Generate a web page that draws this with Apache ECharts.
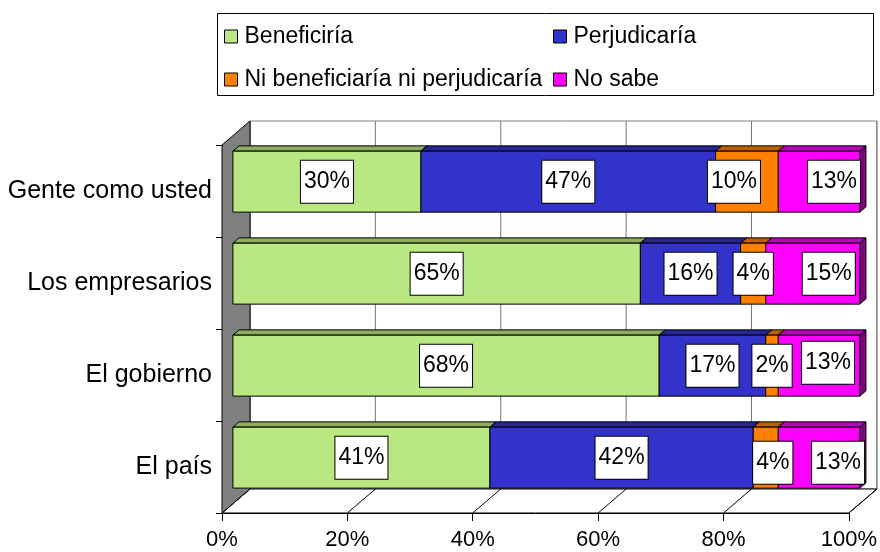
<!DOCTYPE html>
<html>
<head>
<meta charset="utf-8">
<script src="https://cdn.jsdelivr.net/npm/echarts@6/dist/echarts.min.js"></script>
<style>html,body{margin:0;padding:0;background:#fff}#c{width:880px;height:552px}</style>
</head>
<body>
<div id="c"></div>
<script>
const categories = ['Gente como usted', 'Los empresarios', 'El gobierno', 'El país'];
const seriesNames = ['Beneficiría', 'Perjudicaría', 'Ni beneficiaría ni perjudicaría', 'No sabe'];
const beneficiaria = [30, 65, 68, 41];
const perjudicaria = [47, 16, 17, 42];
const niNi = [10, 4, 2, 4];
const noSabe = [13, 15, 13, 13];
const xTicks = [0, 20, 40, 60, 80, 100];

const FONT = "'Liberation Sans', Arial, sans-serif";
const frontColors = ['#B9E883', '#3333CC', '#FF8000', '#FF00FF'];
const topColors = ['#8CAE60', '#262699', '#BF6000', '#BF00BF'];
const sideColors = ['#6E8A4C', '#1A1A73', '#804000', '#800080'];
// label nudges in px [dx, dy] per category/series (style only)
const labelNudge = [
  [[0, 0], [0, 0], [-13, 0], [15, 0]],
  [[0, 0], [0, 0], [0, 0], [16, 0]],
  [[0, 0], [0, 0], [0, 0], [9, -3]],
  [[0, 0], [0, 0], [7, 5], [19, 5]]
];

const values = [beneficiaria, perjudicaria, niNi, noSabe];
const DX = 28, DY = -24;          // scene depth
const FX = DX * 0.39, FY = DY * 0.39; // bar front offset
const BX = DX * 0.22, BY = DY * 0.22; // bar depth

// build stacked segments
const segs = values.map(() => []);
const labelData = [];
categories.forEach((c, j) => {
  let acc = 0;
  values.forEach((arr, i) => {
    const s = acc, e = acc + arr[j];
    segs[i].push([s, e, j]);
    labelData.push([(s + e) / 2, j, arr[j], i]);
    acc = e;
  });
});

function barRender(i) {
  return function (params, api) {
    const s = api.value(0), e = api.value(1), c = api.value(2);
    const p0 = api.coord([s, c]), p1 = api.coord([e, c]);
    const band = api.size([0, 1])[1];
    const h = band * 0.663;
    const xL = p0[0] + FX, xR = p1[0] + FX;
    const yT = p0[1] + FY - h / 2, yB = yT + h;
    const ls = { stroke: '#000', lineWidth: 1 };
    return {
      type: 'group',
      children: [
        { type: 'polygon', shape: { points: [[xL, yT], [xR, yT], [xR + BX, yT + BY], [xL + BX, yT + BY]] },
          style: Object.assign({ fill: topColors[i] }, ls) },
        { type: 'polygon', shape: { points: [[xR, yT], [xR + BX, yT + BY], [xR + BX, yB + BY], [xR, yB]] },
          style: Object.assign({ fill: sideColors[i] }, ls) },
        { type: 'rect', shape: { x: xL, y: yT, width: xR - xL, height: h },
          style: Object.assign({ fill: frontColors[i] }, ls) }
      ]
    };
  };
}

function sceneRender(params, api) {
  const x0 = api.coord([0, 0])[0], x1 = api.coord([100, 0])[0];
  const band = api.size([0, 1])[1];
  const yTop = api.coord([0, 0])[1] - band / 2;
  const yBot = api.coord([0, categories.length - 1])[1] + band / 2;
  const ch = [];
  ch.push({ type: 'rect', shape: { x: x0 + DX, y: yTop + DY, width: x1 - x0, height: yBot - yTop },
    style: { fill: '#fff', stroke: '#808080', lineWidth: 1 } });
  xTicks.forEach(v => {
    const x = api.coord([v, 0])[0];
    ch.push({ type: 'line', shape: { x1: x + DX, y1: yTop + DY, x2: x + DX, y2: yBot + DY },
      style: { stroke: '#777', lineWidth: 1 } });
  });
  ch.push({ type: 'polygon', shape: { points: [[x0, yBot], [x1, yBot], [x1 + DX, yBot + DY], [x0 + DX, yBot + DY]] },
    style: { fill: '#fff', stroke: '#000', lineWidth: 1 } });
  xTicks.forEach(v => {
    const x = api.coord([v, 0])[0];
    ch.push({ type: 'line', shape: { x1: x, y1: yBot, x2: x + DX, y2: yBot + DY },
      style: { stroke: '#000', lineWidth: 1 } });
  });
  ch.push({ type: 'polygon', shape: { points: [[x0, yTop], [x0 + DX, yTop + DY], [x0 + DX, yBot + DY], [x0, yBot]] },
    style: { fill: '#808080', stroke: '#000', lineWidth: 1 } });
  return { type: 'group', children: ch };
}

function labelRender(params, api) {
  const cx = api.value(0), c = api.value(1), v = api.value(2), i = api.value(3);
  const p = api.coord([cx, c]);
  const n = labelNudge[c][i];
  return {
    type: 'text',
    x: p[0] + FX + n[0],
    y: p[1] + FY + n[1],
    style: {
      text: v + '%',
      font: '23px ' + FONT,
      fill: '#000',
      align: 'center',
      verticalAlign: 'middle',
      backgroundColor: '#fff',
      borderColor: '#000',
      borderWidth: 1,
      padding: [10, 3, 9, 3]
    }
  };
}

const series = [{
  type: 'custom', name: '_scene', z: 1, silent: true,
  data: [[0, 0]], encode: { x: 0, y: 1 },
  renderItem: sceneRender
}];
seriesNames.forEach((nm, i) => {
  series.push({
    type: 'custom', name: nm, z: 2,
    itemStyle: { color: frontColors[i] },
    data: segs[i], encode: { x: [0, 1], y: 2 },
    renderItem: barRender(i)
  });
});
series.push({
  type: 'custom', name: '_labels', z: 5, silent: true,
  data: labelData, encode: { x: 0, y: 1 },
  renderItem: labelRender
});

const legendCommon = {
  orient: 'vertical', icon: 'rect', itemWidth: 13, itemHeight: 13, itemGap: 20, padding: 0,
  itemStyle: { borderColor: '#000', borderWidth: 1 },
  textStyle: { fontFamily: FONT, fontSize: 23, color: '#000', padding: [0, 0, 0, 2] },
  selectedMode: false
};

const chart = echarts.init(document.getElementById('c'), null, { renderer: 'canvas' });
chart.setOption({
  animation: false,
  backgroundColor: '#fff',
  graphic: [{ type: 'rect', left: 217, top: 13, z: -1,
    shape: { width: 656, height: 82 }, style: { fill: '#fff', stroke: '#000', lineWidth: 1 } }],
  legend: [
    Object.assign({ left: 224, top: 25, data: [seriesNames[0], seriesNames[2]] }, legendCommon),
    Object.assign({ left: 553, top: 25, data: [seriesNames[1], seriesNames[3]] }, legendCommon)
  ],
  grid: { left: 222, right: 30, top: 145, bottom: 39, containLabel: false },
  xAxis: {
    type: 'value', min: 0, max: 100, interval: 20,
    axisLine: { show: true, lineStyle: { color: '#000', width: 1 } },
    axisTick: { show: true, length: 8, lineStyle: { color: '#000' } },
    splitLine: { show: false },
    axisLabel: { formatter: '{value}%', margin: 16, fontFamily: FONT, fontSize: 22, color: '#000' }
  },
  yAxis: {
    type: 'category', data: categories, inverse: true,
    axisLine: { show: true, lineStyle: { color: '#000', width: 1 } },
    axisTick: { show: true, length: 6, alignWithLabel: false, lineStyle: { color: '#000' } },
    splitLine: { show: false },
    axisLabel: { margin: 10, fontFamily: FONT, fontSize: 25, color: '#000' }
  },
  series: series
});
</script>
</body>
</html>
